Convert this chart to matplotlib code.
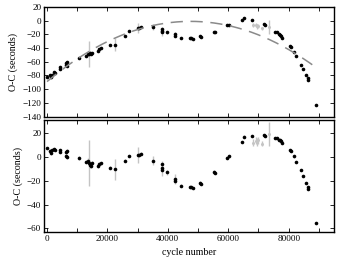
import matplotlib
matplotlib.use('Agg')
import numpy as np
import matplotlib.pyplot as plt
from matplotlib.ticker import MultipleLocator

# cycle number, O-C (s), residual (s), error (s)
cycles = [0, 1000, 1300, 1600, 2300, 2600, 4300, 4400, 6300, 6400, 6500, 6600,
          10600, 12800, 13500, 13900, 14300, 14600, 15000, 17000, 17200, 17800,
          21000, 22400, 25700, 27300, 30000, 30300, 31200, 35200, 38000, 38100,
          38200, 39800, 42300, 42400, 44500, 47200, 47700, 48300, 50800, 51000,
          55400, 55500, 59600, 60100, 64700, 65200, 67800, 71800, 72000, 75600,
          76200, 76700, 77000, 77300, 77800, 80500, 80700, 81600, 82500, 84000,
          84700, 85800, 86300, 86400, 89000]
oc = [-82, -80, -83, -79, -75, -76, -70, -68, -65, -62, -60, -66,
      -54, -51, -49, -48, -47, -49, -47, -44, -42, -40,
      -36, -35, -22, -15, -11, -10, -8.5, -9, -12, -15,
      -17, -17, -20, -22, -26, -26, -26, -27, -23, -24,
      -16, -17, -7, -6, 0.5, 3.5, 0.5, -5, -6, -16,
      -17, -19.5, -21, -22.5, -25, -37, -38, -46, -52, -65,
      -71, -80, -86, -84, -123.5]
resid = [7.7, 5, 3, 6, 6.5, 6, 5.5, 4.5, 1, 4, 5, 0,
         -1, -4, -3, -5, -7, -8, -5, -8, -6, -5.5,
         -9, -10.5, -3, 1, 1.5, 2, 2.8, -3, -6, -9,
         -11, -13, -18.5, -20, -24, -25, -25, -26, -21.5, -22.5,
         -12.5, -13.5, -0.5, 0.5, 12.5, 17, 17.5, 18.5, 17.5, 16,
         15.5, 14.5, 14, 13, 12, 6, 5, 0.5, -4.5, -11,
         -16, -22, -26.5, -25, -55.5]
err = [1, 1.5, 1.5, 1, 1, 1, 1.5, 1.5, 2, 1.5, 1.5, 1.5,
       1.5, 1.5, 2, 19, 2, 1.5, 1.5, 1.5, 1.5, 1,
       1, 9, 1.5, 1, 7, 1.5, 1, 4, 3, 3,
       5, 2, 4, 2, 1, 1, 1, 1, 1, 1,
       1.5, 1, 1, 1, 1, 1, 1, 1, 1, 1,
       1, 1, 1, 1, 1, 1, 1, 1, 1, 1,
       1, 1, 1, 1, 1]

# low-weight timings drawn in grey
cycles_low = [68300, 69200, 69600, 70000, 71300, 73400]
oc_low = [-6, -6, -8, -8, -11, -9]
resid_low = [12, 13.5, 12.5, 14, 11, 19]
err_low = [3, 3, 3.5, 3, 2, 10]

# quadratic ephemeris
peak_cycle = 47500
peak_oc = -1
curv = -3.9e-8
fit_start, fit_end = 0, 88000

plt.rcParams['font.family'] = ['Liberation Serif', 'DejaVu Serif']
plt.rcParams['mathtext.fontset'] = 'stix'

fig = plt.figure(figsize=(3.41, 2.61), dpi=100)
ax1 = fig.add_axes([44/341, 1-116.5/261, 290/341, 109.5/261])
ax2 = fig.add_axes([44/341, 1-232/261, 290/341, 112/261])

grey = '#c4c4c4'
for ax, y, ylow in [(ax1, oc, oc_low), (ax2, resid, resid_low)]:
    ax.errorbar(cycles_low, ylow, yerr=err_low, fmt='o', ms=2.2, mew=0, color=grey,
                ecolor=grey, elinewidth=1.0, capsize=0, zorder=1)
    ax.errorbar(cycles, y, yerr=err, fmt='o', ms=2.6, mew=0, color='black',
                ecolor=grey, elinewidth=1.0, capsize=0, zorder=2)

xf = np.linspace(fit_start, fit_end, 300)
ax1.plot(xf, peak_oc + curv * (xf - peak_cycle) ** 2, color='#8a8a8a', lw=1.1,
         dashes=(8, 5), zorder=3)

ax1.set_ylim(-140, 20)
ax1.yaxis.set_major_locator(MultipleLocator(20))
ax2.set_ylim(-63, 31)
ax2.yaxis.set_major_locator(MultipleLocator(20))

for ax in (ax1, ax2):
    ax.set_xlim(-1000, 95000)
    ax.xaxis.set_major_locator(MultipleLocator(20000))
    ax.xaxis.set_minor_locator(MultipleLocator(10000))
    ax.tick_params(which='both', direction='in', top=True, right=True,
                   length=3, width=0.6, labelsize=6.6, pad=2)
    for s in ax.spines.values():
        s.set_linewidth(1.0)
    ax.set_ylabel('O-C (seconds)', fontsize=7.2, labelpad=3)

ax1.tick_params(labelbottom=False)
ax2.set_xlabel('cycle number', fontsize=7.2, labelpad=4)

fig.savefig('out.png', dpi=100)
